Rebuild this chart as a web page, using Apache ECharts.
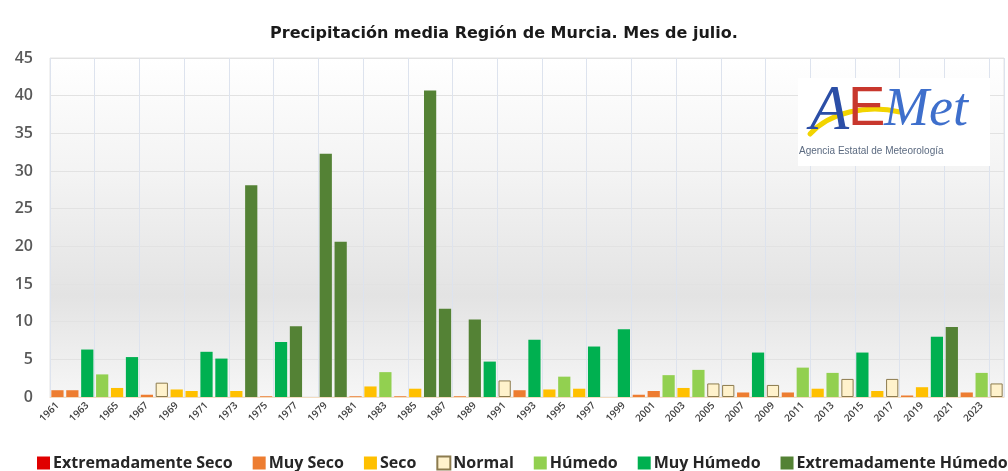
<!DOCTYPE html>
<html>
<head>
<meta charset="utf-8">
<script src="https://cdn.jsdelivr.net/npm/echarts@6/dist/echarts.min.js"></script>
<style>
  html, body { margin: 0; padding: 0; background: #fff; }
  #chart { width: 1008px; height: 471px; }
</style>
</head>
<body>
<div id="chart"></div>
<script>
// years 1961-2024
const years = [];
for (let y = 1961; y <= 2024; y++) years.push(String(y));

// July mean precipitation (mm)
const precip = [
  0.9, 0.9, 6.3, 3.0, 1.2, 5.3, 0.3, 1.9, 1.0, 0.8,
  6.0, 5.1, 0.8, 28.1, 0.1, 7.3, 9.4, 0.0, 32.3, 20.6,
  0.1, 1.4, 3.3, 0.1, 1.1, 40.7, 11.7, 0.1, 10.3, 4.7,
  2.2, 0.9, 7.6, 1.0, 2.7, 1.1, 6.7, 0.0, 9.0, 0.3,
  0.8, 2.9, 1.2, 3.6, 1.8, 1.6, 0.6, 5.9, 1.6, 0.6,
  3.9, 1.1, 3.2, 2.4, 5.9, 0.8, 2.4, 0.2, 1.3, 8.0,
  9.3, 0.6, 3.2, 1.8
];

// class per year: 0 Ext Seco, 1 Muy Seco, 2 Seco, 3 Normal, 4 Húmedo, 5 Muy Húmedo, 6 Ext Húmedo
const clase = [
  1, 1, 5, 4, 2, 5, 1, 3, 2, 2,
  5, 5, 2, 6, 1, 5, 6, 0, 6, 6,
  1, 2, 4, 1, 2, 6, 6, 1, 6, 5,
  3, 1, 5, 2, 4, 2, 5, 0, 5, 1,
  1, 4, 2, 4, 3, 3, 1, 5, 3, 1,
  4, 2, 4, 3, 5, 2, 3, 1, 2, 5,
  6, 1, 4, 3
];

const categorias = ['Extremadamente Seco', 'Muy Seco', 'Seco', 'Normal', 'Húmedo', 'Muy Húmedo', 'Extremadamente Húmedo'];
const colores = ['#e00000', '#ed7d31', '#ffc000', '#fff2cc', '#92d050', '#00b050', '#548235'];

const chart = echarts.init(document.getElementById('chart'), null, { renderer: 'canvas' });

const series = categorias.map((nombre, k) => ({
  name: nombre,
  type: 'bar',
  stack: 'total',
  barWidth: '82%',
  itemStyle: k === 3
    ? { color: colores[k], borderColor: '#8c7b4e', borderWidth: 1 }
    : { color: colores[k] },
  data: precip.map((v, i) => (clase[i] === k ? v : '-'))
}));

const option = {
  backgroundColor: '#ffffff',
  animation: false,
  title: {
    text: 'Precipitación media Región de Murcia. Mes de julio.',
    left: 'center',
    top: 21,
    textStyle: { fontFamily: 'DejaVu Sans', fontSize: 16, fontWeight: 'bold', color: '#1a1a1a' }
  },
  legend: {
    bottom: 0,
    left: 37,
    width: 990,
    padding: 0,
    itemWidth: 13,
    itemHeight: 13,
    itemGap: 20,
    icon: 'rect',
    textStyle: { fontFamily: 'Open Sans', fontSize: 16, fontWeight: 700, color: '#262626', padding: [0, 0, 0, -2] },
    data: categorias
  },
  grid: {
    left: 50, right: 4, top: 58, bottom: 74,
    show: true,
    borderWidth: 1,
    borderColor: '#e4e4e4',
    backgroundColor: {
      type: 'linear', x: 0, y: 0, x2: 0, y2: 1,
      colorStops: [
        { offset: 0, color: '#ffffff' },
        { offset: 0.35, color: '#f3f3f3' },
        { offset: 0.7, color: '#e3e3e3' },
        { offset: 1, color: '#f6f6f6' }
      ]
    }
  },
  xAxis: {
    type: 'category',
    data: years,
    boundaryGap: true,
    axisLine: { lineStyle: { color: '#f3dcc0' } },
    axisTick: { show: false },
    axisLabel: {
      interval: 1,
      rotate: 45,
      fontFamily: 'Open Sans',
      fontSize: 10,
      fontWeight: 600,
      color: '#404040',
      margin: 7
    },
    splitLine: {
      show: true,
      interval: (i) => i % 3 === 0,
      lineStyle: { color: '#dde3ee', width: 1 }
    }
  },
  yAxis: {
    type: 'value',
    min: 0, max: 45, interval: 5,
    axisLine: { show: false },
    axisTick: { show: false },
    axisLabel: {
      fontFamily: 'Open Sans',
      fontSize: 16,
      fontWeight: 600,
      color: '#595959',
      margin: 17
    },
    splitLine: { lineStyle: { color: '#e2e2e2', width: 1 } }
  },
  graphic: [
    { type: 'rect', shape: { x: 798, y: 78, width: 192, height: 88 }, style: { fill: '#ffffff' }, z: 10 },
    // yellow swoosh
    { type: 'bezierCurve', shape: { x1: 810, y1: 134, cpx1: 830, cpy1: 112, x2: 900, y2: 112, cpx2: 868, cpy2: 104 },
      style: { stroke: '#f2d400', lineWidth: 5, lineCap: 'round', fill: null }, z: 11 },
    { type: 'text', left: 810, top: 80, z: 12,
      style: { text: 'A', fontFamily: 'Liberation Serif', fontStyle: 'italic', fontSize: 64, fill: '#2b4ea6' } },
    { type: 'text', left: 848, top: 82, z: 12,
      style: { text: 'E', fontFamily: 'Liberation Sans', fontSize: 56, fill: '#c8372d' } },
    { type: 'text', left: 884, top: 84, z: 12,
      style: { text: 'Met', fontFamily: 'Liberation Serif', fontStyle: 'italic', fontSize: 54, fill: '#3e6fcc' } },
    { type: 'text', left: 799, top: 146, z: 12,
      style: { text: 'Agencia Estatal de Meteorología', fontFamily: 'Liberation Sans', fontSize: 10, fill: '#5b6a80' } }
  ],
  series: series
};

chart.setOption(option);
</script>
</body>
</html>
